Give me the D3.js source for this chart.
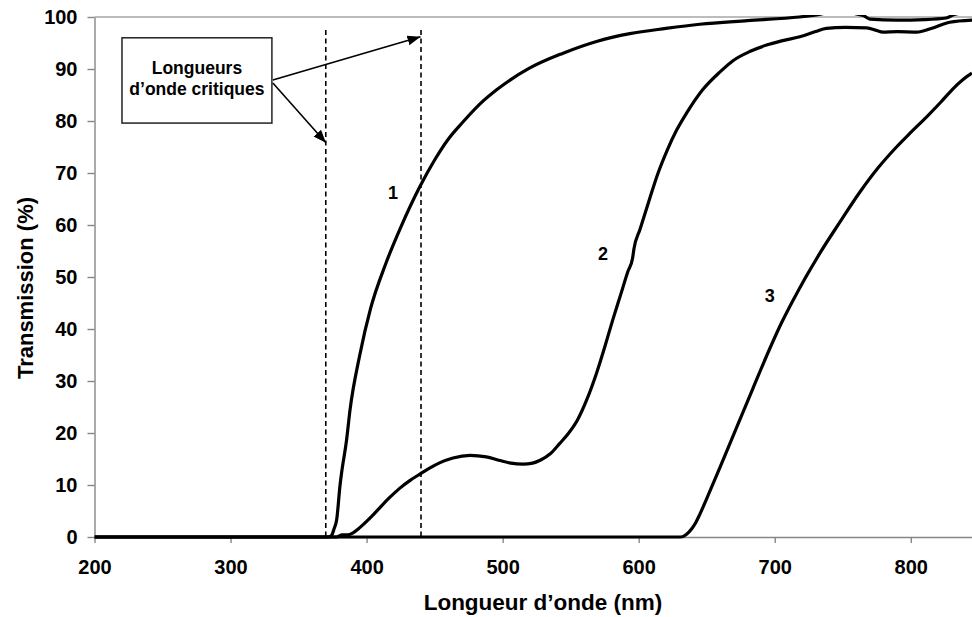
<!DOCTYPE html>
<html>
<head>
  <title>Transmission</title>
  <script src="https://d3js.org/d3.v7.min.js"></script>
  <style>
    body { margin: 0; background: #fff; }
    text { font-family: Arial, "Liberation Sans", Helvetica, sans-serif; font-weight: bold; fill: #000; }
    .axis path, .axis line { stroke: #868686; stroke-width: 1.4; }
    .axis text { font-size: 20px; }
  </style>
</head>
<body>
  <div id="chart"></div>
  <script>
    // wavelength (nm) and transmission (%)
    var nm1 = [200, 372, 374.3, 376, 378, 380.5, 381.6, 385.3, 387.8, 395, 403, 414, 425, 439.2, 450, 460, 470.8, 483, 495.6, 520, 544, 569, 593.5, 620, 645, 680, 718, 728, 745, 765, 770, 790, 810, 826, 832, 845];
    var t1  = [0, 0, 0.3, 1.5, 3.3, 10, 12.3, 18.7, 24.4, 35, 44, 52.5, 59.5, 67.4, 72.5, 76.5, 79.8, 83.2, 86, 90.2, 93, 95.3, 96.8, 97.8, 98.6, 99.3, 100, 100.3, 101, 100.3, 99.6, 99.4, 99.5, 99.8, 100.5, 101];

    var nm2 = [200, 378, 382, 386, 390, 395, 400, 405, 410, 417, 424.5, 432, 439.2, 446, 454, 463.5, 476, 488, 498, 506, 515, 522, 528, 535, 542, 548, 555, 562, 569, 575, 581, 587, 592, 595.5, 596.5, 601, 608, 614, 621, 628, 635.4, 647, 659.6, 669.3, 682, 694, 705, 718.4, 730, 738, 752, 767.6, 775, 779.4, 790, 804.4, 815, 828.6, 845];
    var t2  = [0, 0, 0.4, 0.4, 0.8, 1.8, 3, 4.3, 5.7, 7.6, 9.4, 10.9, 12.1, 13.2, 14.3, 15.2, 15.7, 15.4, 14.7, 14.2, 14, 14.2, 14.8, 16, 18, 19.8, 22.5, 26.5, 31.5, 36.5, 41.8, 46.8, 51, 53.6, 55.4, 59.2, 65, 69.8, 74.4, 78.3, 81.6, 86, 89.4, 91.6, 93.4, 94.6, 95.4, 96.2, 97.2, 97.8, 98, 97.9, 97.4, 97.1, 97.2, 97.1, 97.8, 99, 99.4];

    var nm3 = [200, 631, 635, 639, 642, 645, 650, 659.6, 672, 684, 696.3, 705, 713.6, 733, 748, 762.5, 776, 789.5, 800, 811.7, 822, 831, 838, 845];
    var t3  = [0, 0, 0.5, 1.6, 2.8, 4.4, 7.4, 13.3, 21.1, 28.6, 36.2, 41.2, 45.6, 54.5, 60.6, 66.3, 71, 75, 77.8, 80.8, 83.6, 86.2, 87.9, 89.2];

    var xTicks = [200, 300, 400, 500, 600, 700, 800];
    var yTicks = [0, 10, 20, 30, 40, 50, 60, 70, 80, 90, 100];

    var critical = [370, 440];
    var curveNames = ["1", "2", "3"];
    var curveLabelAt = [[419.5, 65], [573.7, 53.3], [696.3, 45.2]];
    var boxLines = ["Longueurs", "d\u2019onde critiques"];
    var boxCorners = [[220.2, 96], [330.4, 79.6]];
    var arrowFrom = [[331.1, 87.9], [331.1, 87.3]];
    var arrowTo = [[439.6, 96.2], [370.1, 75.8]];

    var width = 972, height = 617;
    var svg = d3.select("#chart").append("svg")
      .attr("width", width)
      .attr("height", height);

    var x = d3.scaleLinear().domain([200, 845]).range([94.5, 972]);
    var y = d3.scaleLinear().domain([0, 100]).range([537, 17]);

    svg.append("defs").append("clipPath").attr("id", "plot")
      .append("rect")
      .attr("x", x(200))
      .attr("y", y(100) - 2)
      .attr("width", width - x(200))
      .attr("height", y(0) - y(100) + 6);

    var marker = svg.select("defs").append("marker")
      .attr("id", "arrow")
      .attr("markerUnits", "userSpaceOnUse")
      .attr("markerWidth", 14)
      .attr("markerHeight", 12)
      .attr("refX", 13)
      .attr("refY", 5)
      .attr("orient", "auto");
    marker.append("path").attr("d", "M0,0 L13,5 L0,10 Z").attr("fill", "#000");

    // top border of the plot
    svg.append("line")
      .attr("x1", x(200)).attr("x2", width)
      .attr("y1", y(100)).attr("y2", y(100))
      .attr("stroke", "#a6a6a6").attr("stroke-width", 1.4);

    var xAxis = svg.append("g").attr("class", "axis")
      .attr("transform", "translate(0," + y(0) + ")")
      .call(d3.axisBottom(x).tickValues(xTicks).tickSize(6).tickSizeOuter(0).tickPadding(17));
    xAxis.selectAll("text").attr("dy", "0.71em");

    var yAxis = svg.append("g").attr("class", "axis")
      .attr("transform", "translate(" + x(200) + ",0)")
      .call(d3.axisLeft(y).tickValues(yTicks).tickSize(7).tickSizeOuter(0).tickPadding(10));

    // critical wavelengths
    svg.selectAll(".crit").data(critical).enter().append("line")
      .attr("class", "crit")
      .attr("x1", function(d) { return x(d); })
      .attr("x2", function(d) { return x(d); })
      .attr("y1", 30)
      .attr("y2", y(0))
      .attr("stroke", "#000")
      .attr("stroke-width", 1.6)
      .attr("stroke-dasharray", "5,3.5");

    var line = d3.line()
      .x(function(d) { return x(d[0]); })
      .y(function(d) { return y(d[1]); })
      .curve(d3.curveMonotoneX);

    var series = [d3.zip(nm3, t3), d3.zip(nm2, t2), d3.zip(nm1, t1)];
    svg.append("g").attr("clip-path", "url(#plot)")
      .selectAll("path").data(series).enter().append("path")
      .attr("d", line)
      .attr("fill", "none")
      .attr("stroke", "#000")
      .attr("stroke-width", 3.2)
      .attr("stroke-linejoin", "round");

    svg.selectAll(".clabel").data(curveNames).enter().append("text")
      .attr("class", "clabel")
      .attr("x", function(d, i) { return x(curveLabelAt[i][0]); })
      .attr("y", function(d, i) { return y(curveLabelAt[i][1]); })
      .attr("text-anchor", "middle")
      .style("font-size", "18px")
      .text(function(d) { return d; });

    // annotation box and arrows
    svg.append("rect")
      .attr("x", x(boxCorners[0][0]))
      .attr("y", y(boxCorners[0][1]))
      .attr("width", x(boxCorners[1][0]) - x(boxCorners[0][0]))
      .attr("height", y(boxCorners[1][1]) - y(boxCorners[0][1]))
      .attr("fill", "#fff")
      .attr("stroke", "#222")
      .attr("stroke-width", 1.5);

    var boxMid = (x(boxCorners[0][0]) + x(boxCorners[1][0])) / 2;
    svg.selectAll(".boxtxt").data(boxLines).enter().append("text")
      .attr("class", "boxtxt")
      .attr("x", boxMid)
      .attr("y", function(d, i) { return 74 + i * 21; })
      .attr("text-anchor", "middle")
      .style("font-size", "17.5px")
      .text(function(d) { return d; });

    svg.selectAll(".arrow").data(arrowFrom).enter().append("line")
      .attr("class", "arrow")
      .attr("x1", function(d) { return x(d[0]); })
      .attr("y1", function(d) { return y(d[1]); })
      .attr("x2", function(d, i) { return x(arrowTo[i][0]); })
      .attr("y2", function(d, i) { return y(arrowTo[i][1]); })
      .attr("stroke", "#000")
      .attr("stroke-width", 1.6)
      .attr("marker-end", "url(#arrow)");

    // axis titles
    svg.append("text")
      .attr("x", 543)
      .attr("y", 610)
      .attr("text-anchor", "middle")
      .style("font-size", "22.5px")
      .text("Longueur d\u2019onde (nm)");

    svg.append("text")
      .attr("transform", "translate(33,288) rotate(-90)")
      .attr("text-anchor", "middle")
      .style("font-size", "22px")
      .text("Transmission (%)");
  </script>
</body>
</html>
